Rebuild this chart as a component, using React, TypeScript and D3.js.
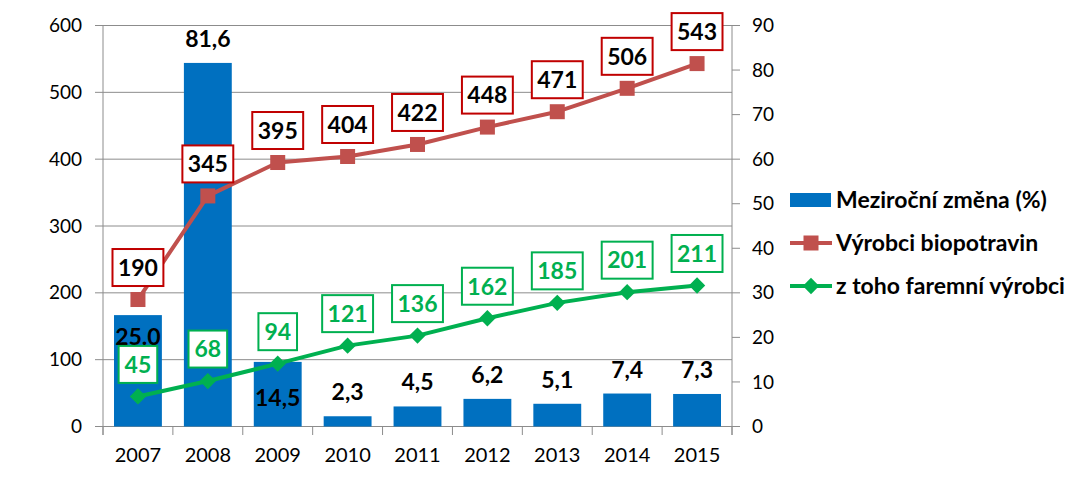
import React, { useEffect, useRef } from "react";
import * as d3 from "d3";

const years = ["2007", "2008", "2009", "2010", "2011", "2012", "2013", "2014", "2015"];
const changePct = [25.0, 81.6, 14.5, 2.3, 4.5, 6.2, 5.1, 7.4, 7.3];
const changeLabels = ["25.0", "81,6", "14,5", "2,3", "4,5", "6,2", "5,1", "7,4", "7,3"];
const changeLabelMode = ["insideEnd", "outsideEnd", "insideBase", "outsideEnd", "outsideEnd", "outsideEnd", "outsideEnd", "outsideEnd", "outsideEnd"];
const producers = [190, 345, 395, 404, 422, 448, 471, 506, 543];
const farmProducers = [45, 68, 94, 121, 136, 162, 185, 201, 211];
const leftTicks = [0, 100, 200, 300, 400, 500, 600];
const rightTicks = [0, 10, 20, 30, 40, 50, 60, 70, 80, 90];
const seriesNames = ["Meziroční změna (%)", "Výrobci biopotravin", "z toho faremní výrobci"];

const FONT = "Lato, 'Open Sans', sans-serif";
const BLUE = "#0070C0";
const RED = "#C0504D";
const RED_BOX = "#C00000";
const GREEN = "#00B050";
const GRID = "#8C8C8C";

export default function App() {
  const ref = useRef<SVGSVGElement>(null);
  useEffect(() => {
    const svg = d3.select(ref.current);
    svg.selectAll("*").remove();
    const left = 103, right = 732, top = 25.5, bottom = 426.5;
    const x = d3.scaleBand().domain(years).range([left, right]).padding(0);
    const yL = d3.scaleLinear().domain([0, 600]).range([bottom, top]);
    const yR = d3.scaleLinear().domain([0, 90]).range([bottom, top]);
    const bw = x.bandwidth();
    const cx = (y: string) => (x(y) as number) + bw / 2;

    // gridlines
    svg.append("g").selectAll("line").data(leftTicks).join("line")
      .attr("x1", left).attr("x2", right)
      .attr("y1", (d) => yL(d)).attr("y2", (d) => yL(d))
      .attr("stroke", GRID).attr("stroke-width", 1);
    // left axis
    svg.append("line").attr("x1", left).attr("x2", left).attr("y1", top).attr("y2", bottom + 8.5).attr("stroke", GRID);
    svg.append("g").selectAll("line").data(leftTicks).join("line")
      .attr("x1", left - 8).attr("x2", left).attr("y1", (d) => yL(d)).attr("y2", (d) => yL(d)).attr("stroke", GRID);
    svg.append("g").selectAll("text").data(leftTicks).join("text")
      .attr("x", 82).attr("y", (d) => yL(d)).attr("dy", "0.35em").attr("text-anchor", "end")
      .attr("font-family", FONT).attr("font-size", 19).attr("fill", "#000").text((d) => d);
    // right axis
    svg.append("line").attr("x1", right).attr("x2", right).attr("y1", top).attr("y2", bottom + 8.5).attr("stroke", GRID);
    svg.append("g").selectAll("line").data(rightTicks).join("line")
      .attr("x1", right).attr("x2", right + 8).attr("y1", (d) => yR(d)).attr("y2", (d) => yR(d)).attr("stroke", GRID);
    svg.append("g").selectAll("text").data(rightTicks).join("text")
      .attr("x", 752).attr("y", (d) => yR(d)).attr("dy", "0.35em").attr("text-anchor", "start")
      .attr("font-family", FONT).attr("font-size", 19).attr("fill", "#000").text((d) => d);
    // bottom ticks
    const bounds = years.map((y) => x(y) as number).concat([right]);
    svg.append("g").selectAll("line").data(bounds).join("line")
      .attr("x1", (d) => d).attr("x2", (d) => d).attr("y1", bottom).attr("y2", bottom + 8.5).attr("stroke", GRID);
    svg.append("g").selectAll("text").data(years).join("text")
      .attr("x", (d) => cx(d)).attr("y", 462).attr("text-anchor", "middle")
      .attr("font-family", FONT).attr("font-size", 20).attr("fill", "#000").text((d) => d);

    // bars
    const barW = bw * 0.685;
    svg.append("g").selectAll("rect").data(changePct).join("rect")
      .attr("x", (d, i) => cx(years[i]) - barW / 2).attr("width", barW)
      .attr("y", (d) => yR(d)).attr("height", (d) => bottom - yR(d)).attr("fill", BLUE);
    svg.append("g").selectAll("text").data(changePct).join("text")
      .attr("x", (d, i) => cx(years[i]))
      .attr("y", (d, i) => {
        const m = changeLabelMode[i];
        if (m === "insideEnd") return yR(d) + 30;
        if (m === "insideBase") return bottom - 21;
        return yR(d) - 16;
      })
      .attr("text-anchor", "middle").attr("font-family", FONT).attr("font-weight", "bold")
      .attr("font-size", 23).attr("fill", "#000").text((d, i) => changeLabels[i]);

    // lines
    const drawSeries = (vals: number[], color: string, boxColor: string, textColor: string, marker: "square" | "diamond") => {
      const line = d3.line<number>().x((d, i) => cx(years[i])).y((d) => yL(d));
      svg.append("path").datum(vals).attr("d", line).attr("fill", "none").attr("stroke", color)
        .attr("stroke-width", 4).attr("stroke-linejoin", "round");
      const g = svg.append("g");
      if (marker === "square") {
        g.selectAll("rect").data(vals).join("rect")
          .attr("x", (d, i) => cx(years[i]) - 7.5).attr("y", (d) => yL(d) - 7.5)
          .attr("width", 15).attr("height", 15).attr("fill", color);
      } else {
        const sym = d3.symbol().type(d3.symbolDiamond2).size(170);
        g.selectAll("path").data(vals).join("path")
          .attr("transform", (d, i) => `translate(${cx(years[i])},${yL(d)})`)
          .attr("d", sym as any).attr("fill", color);
      }
      const lg = svg.append("g");
      vals.forEach((v, i) => {
        const px = cx(years[i]);
        const py = yL(v);
        const txt = String(v);
        const w = txt.length * 12.3 + 14;
        const h = 37;
        const by = py - 13.5 - h;
        lg.append("rect").attr("x", px - w / 2).attr("y", by).attr("width", w).attr("height", h)
          .attr("fill", "#fff").attr("stroke", boxColor).attr("stroke-width", 2);
        lg.append("text").attr("x", px).attr("y", by + h / 2).attr("dy", "0.36em")
          .attr("text-anchor", "middle").attr("font-family", FONT).attr("font-weight", "bold")
          .attr("font-size", 23).attr("fill", textColor).text(txt);
      });
    };
    drawSeries(producers, RED, RED_BOX, "#000", "square");
    drawSeries(farmProducers, GREEN, GREEN, GREEN, "diamond");

    // legend
    const lgd = svg.append("g");
    lgd.append("rect").attr("x", 790).attr("y", 193).attr("width", 41).attr("height", 14).attr("fill", BLUE);
    lgd.append("line").attr("x1", 790).attr("x2", 832).attr("y1", 243).attr("y2", 243).attr("stroke", RED).attr("stroke-width", 4);
    lgd.append("rect").attr("x", 803.5).attr("y", 235.5).attr("width", 15).attr("height", 15).attr("fill", RED);
    lgd.append("line").attr("x1", 790).attr("x2", 832).attr("y1", 286).attr("y2", 286).attr("stroke", GREEN).attr("stroke-width", 4);
    lgd.append("path").attr("transform", "translate(811,286)").attr("d", d3.symbol().type(d3.symbolDiamond2).size(170) as any).attr("fill", GREEN);
    [200, 243, 286].forEach((yy, i) => {
      lgd.append("text").attr("x", 836).attr("y", yy).attr("dy", "0.36em")
        .attr("font-family", FONT).attr("font-weight", "bold").attr("font-size", 23)
        .attr("fill", "#000").text(seriesNames[i]);
    });
  }, []);
  return (
    <svg ref={ref} width={1089} height={482} style={{ position: "absolute", left: 0, top: 0, background: "#fff" }} />
  );
}
